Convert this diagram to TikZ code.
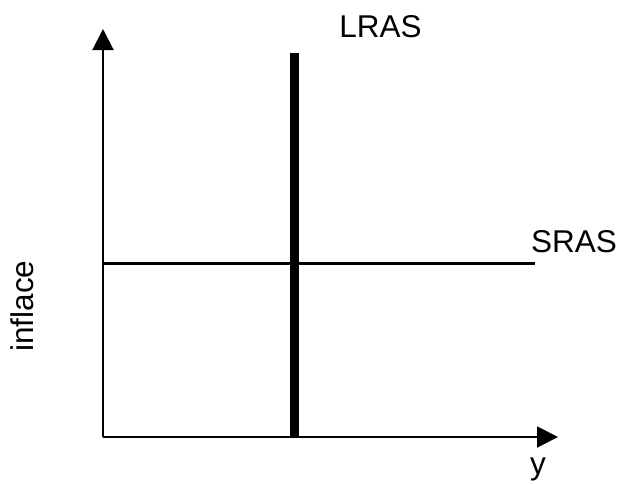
\documentclass[tikz,border=0pt]{standalone}
\usepackage{fontspec}
\setmainfont{Liberation Sans}
\usetikzlibrary{arrows.meta}
\begin{document}
\begin{tikzpicture}[x=1pt,y=-1pt,
  lbl/.style={inner sep=0pt,font=\fontsize{31.5}{38}\selectfont},
  axis/.style={line width=2pt,-{Triangle[length=21pt,width=21pt]}},
  curve/.style={line width=3.5pt}]
\useasboundingbox (0,0) rectangle (620,483);
\coordinate (o) at (103,437);
\coordinate (ytop) at (103,29);
\coordinate (xend) at (558,437);
\coordinate (ltop) at (294.5,53);
\coordinate (lbot) at (294.5,437);
\coordinate (sl) at (103,263.5);
\coordinate (sr) at (535,263.5);
\draw[axis] (o) -- (ytop);
\draw[axis] (o) -- (xend);
\draw[line width=9pt] (lbot) -- (ltop);
\draw[curve] (sl) -- (sr);
\node[lbl,anchor=base] (lras) at (380.5,37) {LRAS};
\node[lbl,anchor=base west] (sras) at (531,252) {SRAS};
\node[lbl,anchor=base west] (ylab) at (530,474) {y};
\node[lbl,anchor=base,rotate=90] (infl) at (33,306) {inflace};
\end{tikzpicture}
\end{document}
